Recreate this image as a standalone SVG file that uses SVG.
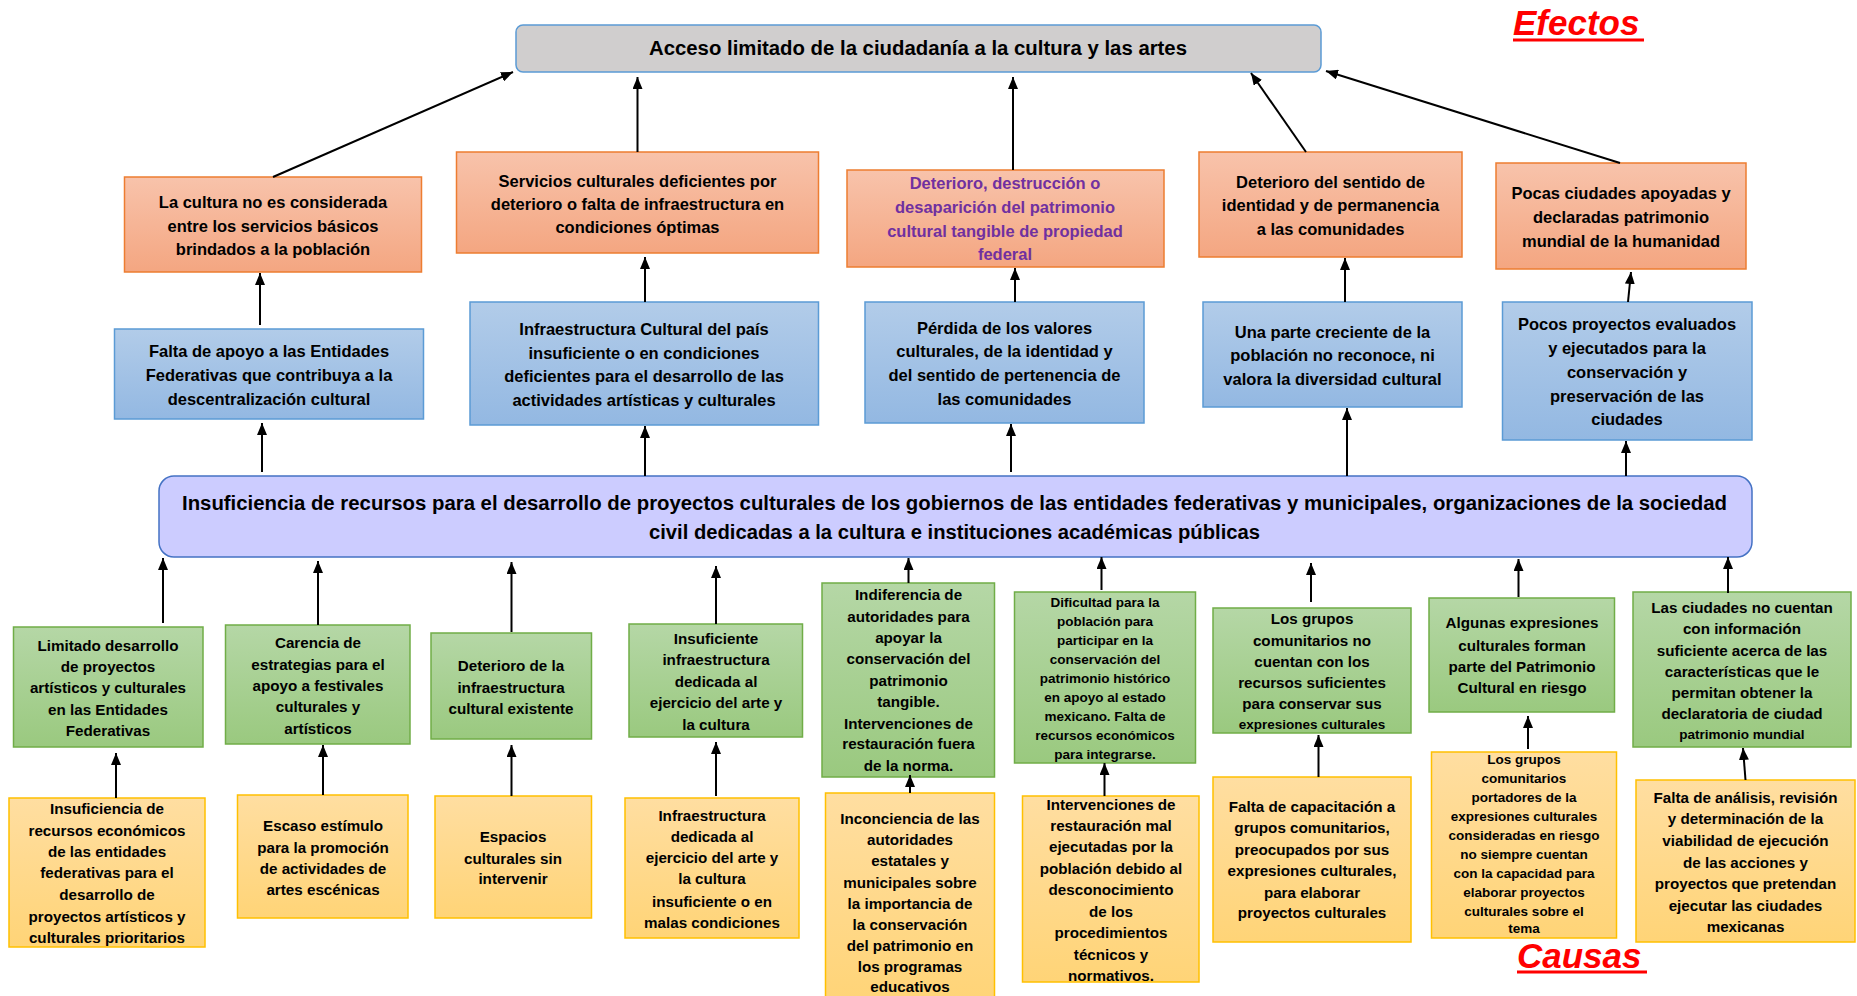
<svg xmlns="http://www.w3.org/2000/svg" width="1857" height="996" viewBox="0 0 1857 996">
<defs>
<style>
text{font-family:"Liberation Sans",Arial,sans-serif;font-weight:bold;fill:#000;text-anchor:middle}
.t16{font-size:16.5px}
.t15{font-size:15.2px}
.t13{font-size:13.5px}
.ttl{font-size:20px}
.lbl{font-size:35px;font-style:italic;fill:#ff0000;text-anchor:start}
.or{fill:url(#gOr);stroke:#ed7d31;stroke-width:1.5}
.bl{fill:url(#gBl);stroke:#5b9bd5;stroke-width:1.5}
.gr{fill:url(#gGr);stroke:#70ad47;stroke-width:1.5}
.ye{fill:url(#gYe);stroke:#ffc000;stroke-width:1.5}
.cn line{stroke:#000;stroke-width:2;marker-end:url(#ah)}
</style>
<linearGradient id="gOr" x1="0" y1="0" x2="0" y2="1"><stop offset="0" stop-color="#f8c3ab"/><stop offset="1" stop-color="#f4a681"/></linearGradient>
<linearGradient id="gBl" x1="0" y1="0" x2="0" y2="1"><stop offset="0" stop-color="#b2cce9"/><stop offset="1" stop-color="#93b8e2"/></linearGradient>
<linearGradient id="gGr" x1="0" y1="0" x2="0" y2="1"><stop offset="0" stop-color="#b5d7a6"/><stop offset="1" stop-color="#9ac97f"/></linearGradient>
<linearGradient id="gYe" x1="0" y1="0" x2="0" y2="1"><stop offset="0" stop-color="#ffdea1"/><stop offset="1" stop-color="#ffd477"/></linearGradient>
<marker id="ah" viewBox="0 0 12 10" refX="12" refY="5" markerWidth="12" markerHeight="10" orient="auto" markerUnits="userSpaceOnUse"><path d="M0,0 L12,5 L0,10 z" fill="#000"/></marker>
</defs>
<rect width="1857" height="996" fill="#fff"/>

<g id="label-efectos">
<text class="lbl" x="1513" y="35">Efectos</text>
<line x1="1513" y1="40" x2="1644" y2="40" stroke="#ff0000" stroke-width="3"/>
</g>
<g id="label-causas">
<text class="lbl" x="1517" y="968">Causas</text>
<line x1="1517" y1="972" x2="1647" y2="972" stroke="#ff0000" stroke-width="3"/>
</g>

<g id="top">
<rect x="516" y="25" width="805" height="47" rx="7" fill="#d0cece" stroke="#5b9bd5" stroke-width="1.5"/>
<text class="ttl" x="918" y="55" textLength="538" lengthAdjust="spacingAndGlyphs">Acceso limitado de la ciudadanía a la cultura y las artes</text>
</g>

<g id="central">
<rect x="159" y="476" width="1593" height="81" rx="15" fill="#ccccff" stroke="#4472c4" stroke-width="1.5"/>
<text class="ttl" x="954.5" y="510" textLength="1545" lengthAdjust="spacingAndGlyphs">Insuficiencia de recursos para el desarrollo de proyectos culturales de los  gobiernos de las entidades federativas y municipales, organizaciones de la sociedad</text>
<text class="ttl" x="954.5" y="539" textLength="611" lengthAdjust="spacingAndGlyphs">civil dedicadas a la cultura e instituciones académicas públicas</text>
</g>

<!-- Effects -->
<g id="e1"><rect class="or" x="124.5" y="177" width="297" height="95"/>
<text class="t16" x="273" y="208">La cultura no es considerada</text><text class="t16" x="273" y="232">entre los servicios básicos</text><text class="t16" x="273" y="255">brindados a la población</text></g>
<g id="e2"><rect class="or" x="456.5" y="152" width="362" height="101"/>
<text class="t16" x="637.5" y="187">Servicios culturales deficientes por</text><text class="t16" x="637.5" y="210">deterioro o falta de infraestructura en</text><text class="t16" x="637.5" y="233">condiciones óptimas</text></g>
<g id="e3"><rect class="or" x="847" y="170" width="317" height="97"/>
<text class="t16" x="1005" y="189" style="fill:#7030a0">Deterioro, destrucción  o</text><text class="t16" x="1005" y="213" style="fill:#7030a0">desaparición del patrimonio</text><text class="t16" x="1005" y="237" style="fill:#7030a0">cultural tangible de propiedad</text><text class="t16" x="1005" y="260" style="fill:#7030a0">federal</text></g>
<g id="e4"><rect class="or" x="1199" y="152" width="263" height="105"/>
<text class="t16" x="1330.5" y="188">Deterioro del sentido de</text><text class="t16" x="1330.5" y="211">identidad y de permanencia</text><text class="t16" x="1330.5" y="235">a las comunidades</text></g>
<g id="e5"><rect class="or" x="1496" y="163" width="250" height="106"/>
<text class="t16" x="1621" y="199">Pocas ciudades apoyadas y</text><text class="t16" x="1621" y="223">declaradas patrimonio</text><text class="t16" x="1621" y="247">mundial de la humanidad</text></g>

<!-- Blue -->
<g id="b1"><rect class="bl" x="114.5" y="329" width="309" height="90"/>
<text class="t16" x="269" y="357">Falta de apoyo a las Entidades</text><text class="t16" x="269" y="381">Federativas que contribuya a la</text><text class="t16" x="269" y="405">descentralización cultural</text></g>
<g id="b2"><rect class="bl" x="470" y="302" width="348.5" height="123"/>
<text class="t16" x="644" y="335">Infraestructura Cultural del país</text><text class="t16" x="644" y="359">insuficiente o en condiciones</text><text class="t16" x="644" y="382">deficientes para el desarrollo de las</text><text class="t16" x="644" y="406">actividades artísticas y culturales</text></g>
<g id="b3"><rect class="bl" x="865" y="302" width="279" height="121"/>
<text class="t16" x="1004.5" y="334">Pérdida de los valores</text><text class="t16" x="1004.5" y="357">culturales, de la identidad y</text><text class="t16" x="1004.5" y="381">del sentido de pertenencia de</text><text class="t16" x="1004.5" y="405">las comunidades</text></g>
<g id="b4"><rect class="bl" x="1203" y="302" width="259" height="105"/>
<text class="t16" x="1332.5" y="338">Una parte creciente de la</text><text class="t16" x="1332.5" y="361">población no reconoce, ni</text><text class="t16" x="1332.5" y="385">valora la diversidad cultural</text></g>
<g id="b5"><rect class="bl" x="1502.5" y="302" width="249.5" height="138"/>
<text class="t16" x="1627" y="330">Pocos proyectos evaluados</text><text class="t16" x="1627" y="354">y ejecutados para la</text><text class="t16" x="1627" y="378">conservación y</text><text class="t16" x="1627" y="402">preservación de las</text><text class="t16" x="1627" y="425">ciudades</text></g>

<!-- Green -->
<g id="g1"><rect class="gr" x="13.5" y="627" width="189.5" height="120"/>
<text class="t15" x="108" y="651">Limitado desarrollo</text><text class="t15" x="108" y="672">de proyectos</text><text class="t15" x="108" y="693">artísticos y culturales</text><text class="t15" x="108" y="715">en las Entidades</text><text class="t15" x="108" y="736">Federativas</text></g>
<g id="g2"><rect class="gr" x="225.5" y="625" width="184.5" height="119"/>
<text class="t15" x="318" y="648">Carencia de</text><text class="t15" x="318" y="670">estrategias para el</text><text class="t15" x="318" y="691">apoyo a festivales</text><text class="t15" x="318" y="712">culturales y</text><text class="t15" x="318" y="734">artísticos</text></g>
<g id="g3"><rect class="gr" x="431" y="633" width="160.5" height="106"/>
<text class="t15" x="511" y="671">Deterioro de la</text><text class="t15" x="511" y="693">infraestructura</text><text class="t15" x="511" y="714">cultural existente</text></g>
<g id="g4"><rect class="gr" x="629" y="624" width="173.5" height="113"/>
<text class="t15" x="716" y="644">Insuficiente</text><text class="t15" x="716" y="665">infraestructura</text><text class="t15" x="716" y="687">dedicada al</text><text class="t15" x="716" y="708">ejercicio del arte y</text><text class="t15" x="716" y="730">la cultura</text></g>
<g id="g5"><rect class="gr" x="822" y="583" width="172.5" height="194"/>
<text class="t15" x="908.5" y="600">Indiferencia de</text><text class="t15" x="908.5" y="622">autoridades para</text><text class="t15" x="908.5" y="643">apoyar  la</text><text class="t15" x="908.5" y="664">conservación del</text><text class="t15" x="908.5" y="686">patrimonio</text><text class="t15" x="908.5" y="707">tangible.</text><text class="t15" x="908.5" y="729">Intervenciones de</text><text class="t15" x="908.5" y="749">restauración  fuera</text><text class="t15" x="908.5" y="771">de la norma.</text></g>
<g id="g6"><rect class="gr" x="1014.5" y="592" width="181" height="171"/>
<text class="t13" x="1105" y="607">Dificultad para la</text><text class="t13" x="1105" y="626">población para</text><text class="t13" x="1105" y="645">participar en la</text><text class="t13" x="1105" y="664">conservación del</text><text class="t13" x="1105" y="683">patrimonio histórico</text><text class="t13" x="1105" y="702">en apoyo al estado</text><text class="t13" x="1105" y="721">mexicano. Falta de</text><text class="t13" x="1105" y="740">recursos económicos</text><text class="t13" x="1105" y="759">para integrarse.</text></g>
<g id="g7"><rect class="gr" x="1213" y="608" width="198" height="125"/>
<text class="t15" x="1312" y="624">Los grupos</text><text class="t15" x="1312" y="646">comunitarios no</text><text class="t15" x="1312" y="667">cuentan con los</text><text class="t15" x="1312" y="688">recursos suficientes</text><text class="t15" x="1312" y="709">para conservar sus</text><text class="t13" x="1312" y="729">expresiones culturales</text></g>
<g id="g8"><rect class="gr" x="1429" y="598" width="185.5" height="114"/>
<text class="t15" x="1522" y="628">Algunas expresiones</text><text class="t15" x="1522" y="651">culturales forman</text><text class="t15" x="1522" y="672">parte del Patrimonio</text><text class="t15" x="1522" y="693">Cultural en riesgo</text></g>
<g id="g9"><rect class="gr" x="1633" y="592" width="218" height="155"/>
<text class="t15" x="1742" y="613">Las ciudades no cuentan</text><text class="t15" x="1742" y="634">con  información</text><text class="t15" x="1742" y="656">suficiente acerca de  las</text><text class="t15" x="1742" y="677">características que le</text><text class="t15" x="1742" y="698">permitan obtener la</text><text class="t15" x="1742" y="719">declaratoria de ciudad</text><text class="t13" x="1742" y="739">patrimonio mundial</text></g>

<!-- Yellow -->
<g id="y1"><rect class="ye" x="9" y="798" width="196" height="149"/>
<text class="t15" x="107" y="814">Insuficiencia de</text><text class="t15" x="107" y="836">recursos económicos</text><text class="t15" x="107" y="857">de las entidades</text><text class="t15" x="107" y="878">federativas  para el</text><text class="t15" x="107" y="900">desarrollo de</text><text class="t15" x="107" y="922">proyectos artísticos y</text><text class="t15" x="107" y="943">culturales prioritarios</text></g>
<g id="y2"><rect class="ye" x="237.5" y="795" width="170.5" height="123"/>
<text class="t15" x="323" y="831">Escaso estímulo</text><text class="t15" x="323" y="853">para la promoción</text><text class="t15" x="323" y="874">de actividades de</text><text class="t15" x="323" y="895">artes escénicas</text></g>
<g id="y3"><rect class="ye" x="435" y="796" width="156.5" height="122"/>
<text class="t15" x="513" y="842">Espacios</text><text class="t15" x="513" y="864">culturales sin</text><text class="t15" x="513" y="884">intervenir</text></g>
<g id="y4"><rect class="ye" x="625" y="798" width="174" height="140"/>
<text class="t15" x="712" y="821">Infraestructura</text><text class="t15" x="712" y="842">dedicada al</text><text class="t15" x="712" y="863">ejercicio del arte y</text><text class="t15" x="712" y="884">la cultura</text><text class="t15" x="712" y="907">insuficiente o en</text><text class="t15" x="712" y="928">malas condiciones</text></g>
<g id="y5"><rect class="ye" x="825.5" y="793" width="169" height="210"/>
<text class="t15" x="910" y="824">Inconciencia de las</text><text class="t15" x="910" y="845">autoridades</text><text class="t15" x="910" y="866">estatales y</text><text class="t15" x="910" y="888">municipales sobre</text><text class="t15" x="910" y="909">la importancia de</text><text class="t15" x="910" y="930">la  conservación</text><text class="t15" x="910" y="951">del  patrimonio en</text><text class="t15" x="910" y="972">los programas</text><text class="t15" x="910" y="992">educativos</text></g>
<g id="y6"><rect class="ye" x="1022.5" y="796" width="176.5" height="186"/>
<text class="t15" x="1111" y="810">Intervenciones de</text><text class="t15" x="1111" y="831">restauración  mal</text><text class="t15" x="1111" y="852">ejecutadas por la</text><text class="t15" x="1111" y="874">población debido al</text><text class="t15" x="1111" y="895">desconocimiento</text><text class="t15" x="1111" y="917">de los</text><text class="t15" x="1111" y="938">procedimientos</text><text class="t15" x="1111" y="960">técnicos y</text><text class="t15" x="1111" y="981">normativos.</text></g>
<g id="y7"><rect class="ye" x="1213" y="777" width="198" height="165"/>
<text class="t15" x="1312" y="812">Falta de capacitación a</text><text class="t15" x="1312" y="833">grupos comunitarios,</text><text class="t15" x="1312" y="855">preocupados por sus</text><text class="t15" x="1312" y="876">expresiones culturales,</text><text class="t15" x="1312" y="898">para elaborar</text><text class="t15" x="1312" y="918">proyectos culturales</text></g>
<g id="y8"><rect class="ye" x="1431.5" y="752" width="185" height="186"/>
<text class="t13" x="1524" y="764">Los grupos</text><text class="t13" x="1524" y="783">comunitarios</text><text class="t13" x="1524" y="802">portadores de la</text><text class="t13" x="1524" y="821">expresiones culturales</text><text class="t13" x="1524" y="840">consideradas en riesgo</text><text class="t13" x="1524" y="859">no siempre cuentan</text><text class="t13" x="1524" y="878">con la capacidad para</text><text class="t13" x="1524" y="897">elaborar proyectos</text><text class="t13" x="1524" y="916">culturales sobre el</text><text class="t13" x="1524" y="933">tema</text></g>
<g id="y9"><rect class="ye" x="1636" y="780" width="219" height="162"/>
<text class="t15" x="1745.5" y="803">Falta de análisis, revisión</text><text class="t15" x="1745.5" y="824">y determinación de la</text><text class="t15" x="1745.5" y="846">viabilidad de ejecución</text><text class="t15" x="1745.5" y="868">de las acciones y</text><text class="t15" x="1745.5" y="889">proyectos que pretendan</text><text class="t15" x="1745.5" y="911">ejecutar las ciudades</text><text class="t15" x="1745.5" y="932">mexicanas</text></g>

<g id="connectors" class="cn">
<line x1="273" y1="177" x2="513" y2="72"/>
<line x1="637.5" y1="152" x2="637.5" y2="77"/>
<line x1="1013" y1="170" x2="1013" y2="77"/>
<line x1="1306" y1="152" x2="1251" y2="73"/>
<line x1="1620" y1="163" x2="1326" y2="71"/>
<line x1="260" y1="325" x2="260" y2="273"/>
<line x1="645" y1="302" x2="645" y2="257"/>
<line x1="1015" y1="302" x2="1015" y2="268"/>
<line x1="1345" y1="302" x2="1345" y2="258"/>
<line x1="1628" y1="302" x2="1631" y2="272"/>
<line x1="262" y1="472" x2="262" y2="423"/>
<line x1="645" y1="476" x2="645" y2="426"/>
<line x1="1011" y1="472" x2="1011" y2="424"/>
<line x1="1347" y1="476" x2="1347" y2="408"/>
<line x1="1626" y1="476" x2="1626" y2="441"/>
<line x1="163" y1="623" x2="163" y2="558"/>
<line x1="318" y1="625" x2="318" y2="561"/>
<line x1="511.5" y1="632" x2="511.5" y2="562"/>
<line x1="716" y1="624" x2="716" y2="566"/>
<line x1="908.5" y1="583" x2="908.5" y2="558"/>
<line x1="1101.5" y1="590" x2="1101.5" y2="557"/>
<line x1="1311" y1="602" x2="1311" y2="563"/>
<line x1="1518.5" y1="597" x2="1518.5" y2="559"/>
<line x1="1728" y1="593" x2="1728" y2="557"/>
<line x1="116" y1="798" x2="116" y2="753"/>
<line x1="323" y1="795" x2="323" y2="745"/>
<line x1="511.5" y1="796" x2="511.5" y2="745"/>
<line x1="716" y1="796" x2="716" y2="742"/>
<line x1="910" y1="793" x2="910" y2="775"/>
<line x1="1104.5" y1="796" x2="1104.5" y2="763"/>
<line x1="1318.5" y1="777" x2="1318.5" y2="735"/>
<line x1="1528" y1="749" x2="1528" y2="716"/>
<line x1="1745.5" y1="780" x2="1743" y2="748"/>
</g>
</svg>
